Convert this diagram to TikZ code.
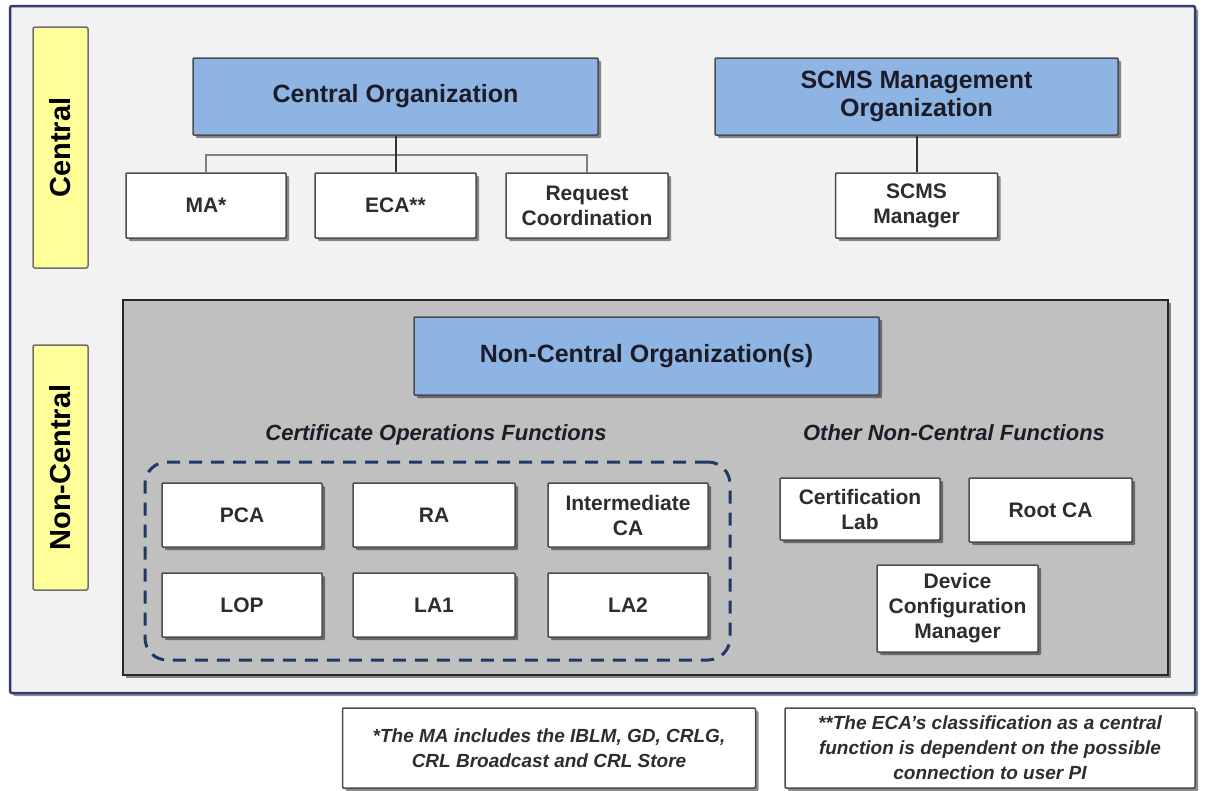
\documentclass[tikz,border=0pt]{standalone}
\usepackage{fontspec}
\setmainfont{Liberation Sans}
\usetikzlibrary{shadows}
\definecolor{framecol}{RGB}{47,62,110}
\definecolor{framefill}{RGB}{242,242,242}
\definecolor{yel}{RGB}{255,255,153}
\definecolor{yelborder}{RGB}{110,110,110}
\definecolor{bluefill}{RGB}{141,180,226}
\definecolor{boxborder}{RGB}{75,75,85}
\definecolor{grayfill}{RGB}{192,192,192}
\definecolor{dashcol}{RGB}{31,56,100}
\definecolor{headtext}{RGB}{28,28,40}
\definecolor{smalltext}{RGB}{45,45,45}
\tikzset{
  shad/.style={drop shadow={shadow xshift=3pt,shadow yshift=-3pt,fill=black,opacity=0.45}},
  sidelabel/.style={draw=yelborder,line width=1.5pt,fill=yel,rounded corners=2pt,rotate=90,
    minimum height=55pt,inner sep=0pt,text=black,font=\fontsize{29}{32}\selectfont\bfseries},
  orgbox/.style={draw=boxborder,line width=1.5pt,fill=bluefill,shad,rounded corners=1pt,inner sep=0pt,
    align=center,text=headtext,font=\fontsize{25}{28}\selectfont\bfseries},
  funcbox/.style={draw=boxborder,line width=1.5pt,fill=white,shad,rounded corners=1pt,inner sep=0pt,
    align=center,text=smalltext,font=\fontsize{21}{25}\selectfont\bfseries},
  notebox/.style={draw=boxborder,line width=1.5pt,fill=white,shad,rounded corners=1pt,inner sep=0pt,
    align=center,text=smalltext,font=\fontsize{19}{25}\selectfont\bfseries\itshape},
  grouplabel/.style={inner sep=0pt,anchor=base,text=headtext,font=\fontsize{22}{26}\selectfont\bfseries\itshape},
  thinlink/.style={draw=gray,line width=1.2pt},
  thicklink/.style={draw=black!80,line width=2pt}
}
\begin{document}
\begin{tikzpicture}[x=1pt,y=1pt]
\useasboundingbox (0,0) rectangle (1206,-790);
% outer frame
\node[draw=framecol,line width=2.5pt,fill=framefill,shad,rounded corners=2pt,inner sep=0pt,
  minimum width=1185pt,minimum height=687pt] (frame) at (602.5,-349.5) {};
% side labels
\node[sidelabel,minimum width=241pt] (lcentral) at (60.5,-147.5) {Central};
\node[sidelabel,minimum width=245pt] (lnoncentral) at (60.5,-467.5) {Non-Central};
% central organizations
\node[orgbox,minimum width=405pt,minimum height=77pt] (corg) at (395.5,-96.5) {Central Organization};
\node[orgbox,minimum width=403pt,minimum height=77pt] (sorg) at (916.5,-96.5) {SCMS Management\\Organization};
\node[funcbox,minimum width=160pt,minimum height=65pt] (ma) at (206,-205.5) {MA*};
\node[funcbox,minimum width=161pt,minimum height=65pt] (eca) at (395.5,-205.5) {ECA**};
\node[funcbox,minimum width=162pt,minimum height=65pt] (rc) at (587,-205.5) {Request\\Coordination};
\node[funcbox,minimum width=162pt,minimum height=65pt] (smgr) at (916.5,-205.5) {SCMS\\Manager};
\coordinate (bus) at (395.5,-155);
\draw[thinlink] (ma.north) |- (bus) -| (rc.north);
\draw[thicklink] (corg.south) -- (eca.north);
\draw[thicklink] (sorg.south) -- (smgr.north);
% non-central area
\node[draw=black!85,line width=2.5pt,fill=grayfill,shad,inner sep=0pt,
  minimum width=1045pt,minimum height=375pt] (ncarea) at (645.5,-487.5) {};
\node[orgbox,minimum width=465pt,minimum height=78pt] (ncorg) at (646.5,-356) {Non-Central Organization(s)};
\node[grouplabel] (certops) at (436,-440) {Certificate Operations Functions};
\node[grouplabel] (othernc) at (954,-440) {Other Non-Central Functions};
\node[draw=dashcol,line width=3pt,dash pattern=on 13pt off 9pt,rounded corners=22pt,inner sep=0pt,
  minimum width=585pt,minimum height=198pt] (certgroup) at (437.5,-561) {};
\node[funcbox,minimum width=160pt,minimum height=64pt] (pca) at (242,-515) {PCA};
\node[funcbox,minimum width=162pt,minimum height=64pt] (ra) at (434,-515) {RA};
\node[funcbox,minimum width=160pt,minimum height=64pt] (ica) at (628,-515) {Intermediate\\CA};
\node[funcbox,minimum width=160pt,minimum height=64pt] (lop) at (242,-605) {LOP};
\node[funcbox,minimum width=162pt,minimum height=64pt] (la1) at (434,-605) {LA1};
\node[funcbox,minimum width=160pt,minimum height=64pt] (la2) at (628,-605) {LA2};
\node[funcbox,minimum width=160pt,minimum height=62pt] (certlab) at (860,-509) {Certification\\Lab};
\node[funcbox,minimum width=163pt,minimum height=64pt] (rootca) at (1050.5,-510) {Root CA};
\node[funcbox,minimum width=161pt,minimum height=87pt] (dcm) at (957.5,-608.5) {Device\\Configuration\\Manager};
% footnotes
\node[notebox,minimum width=413pt,minimum height=80pt] (fn1) at (549,-748) {*The MA includes the IBLM, GD, CRLG,\\CRL Broadcast and CRL Store};
\node[notebox,minimum width=410pt,minimum height=80pt] (fn2) at (990,-748) {**The ECA's classification as a central\\function is dependent on the possible\\connection to user PI};
\end{tikzpicture}
\end{document}
